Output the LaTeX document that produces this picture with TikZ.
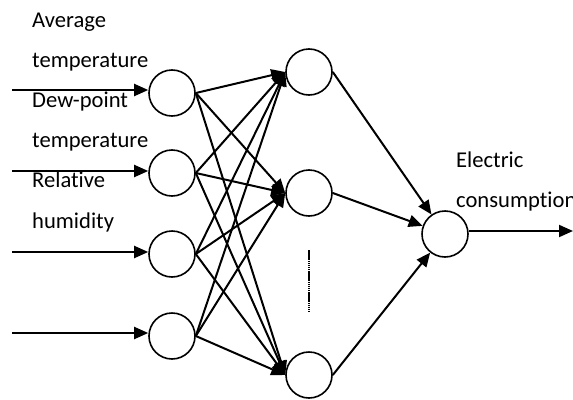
\documentclass[tikz,border=0pt]{standalone}
\usepackage{fontspec}
\setmainfont{Carlito}[Ligatures={NoCommon}]
\usetikzlibrary{arrows.meta}
\begin{document}
\begin{tikzpicture}[x=1pt,y=-1pt,
  neuron/.style={circle,draw,line width=1.6pt,minimum size=46pt,inner sep=0pt},
  arr/.style={line width=2pt,-{Triangle[length=14pt,width=12pt]}},
  lbl/.style={anchor=base west,inner sep=0pt,font=\fontsize{22.6}{26}\selectfont}]
\useasboundingbox (0,0) rectangle (573,399);
% input layer
\node[neuron] (i1) at (172,93) {};
\node[neuron] (i2) at (172,173) {};
\node[neuron] (i3) at (172,254) {};
\node[neuron] (i4) at (172,336) {};
% hidden layer
\node[neuron] (h1) at (309,72) {};
\node[neuron] (h2) at (309,193) {};
\node[neuron] (h3) at (309,375) {};
% output
\node[neuron] (o) at (445,234) {};
% input arrows
\coordinate (s1) at (12,90);
\coordinate (s2) at (12,171);
\coordinate (s3) at (12,252);
\coordinate (s4) at (12,333);
\draw[arr] (s1) -- (i1.west |- s1);
\draw[arr] (s2) -- (i2.west |- s2);
\draw[arr] (s3) -- (i3.west |- s3);
\draw[arr] (s4) -- (i4.west |- s4);
% input to hidden
\foreach \i in {1,2,3,4}{
  \foreach \h in {1,2,3}{
    \draw[arr] (i\i.east) -- (h\h.west);
  }
}
% hidden to output
\foreach \h in {1,2,3}{
  \draw[arr] (h\h.east) -- (o);
}
% output arrow
\coordinate (e) at (573,231);
\draw[arr] (o.east |- e) -- (e);
% dots
\draw[line width=2.2pt,dash pattern=on 1.5pt off 0.6pt] (309,250) -- (309,312);
% labels
\node[lbl] (l1) at (32,27) {Average};
\node[lbl] (l2) at (32,67) {temperature};
\node[lbl] (l3) at (32,107) {Dew-point};
\node[lbl] (l4) at (32,147) {temperature};
\node[lbl] (l5) at (32,187) {Relative};
\node[lbl] (l6) at (32,228) {humidity};
\node[lbl] (l7) at (456,167) {Electric};
\node[lbl] (l8) at (456,207) {consumption};
\end{tikzpicture}
\end{document}
